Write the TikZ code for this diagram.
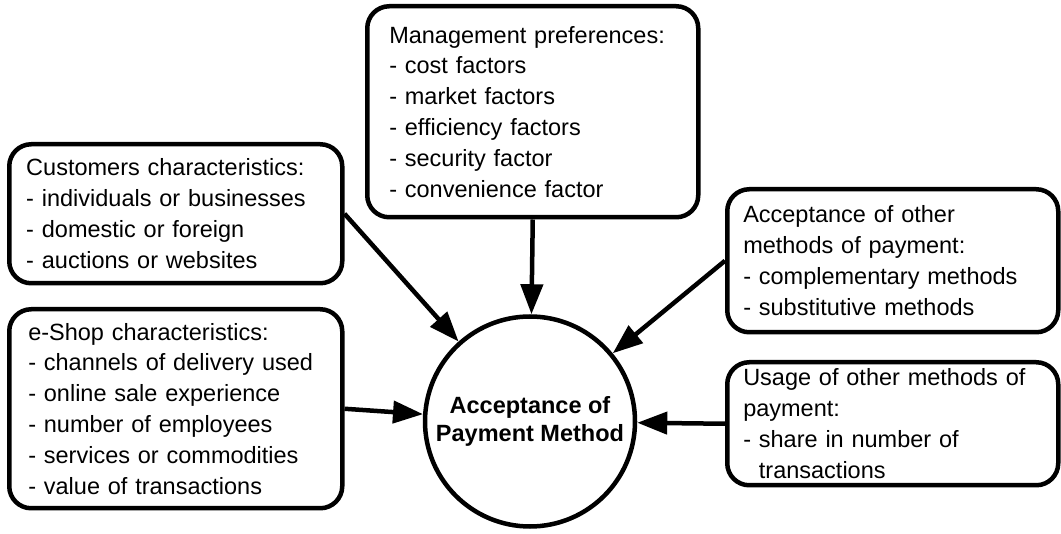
\documentclass[tikz,border=0pt]{standalone}
\usepackage{fontspec}
\setmainfont{Liberation Sans}
\usetikzlibrary{arrows.meta}
\begin{document}
\begin{tikzpicture}[x=1pt,y=-1pt,
  infobox/.style={draw, line width=4.5pt, rounded corners=22pt, fill=white,
    anchor=north west, align=left, inner ysep=0pt,
    font=\fontsize{23.5}{30.8}\selectfont},
  hub/.style={draw, circle, line width=4.5pt, fill=white, minimum size=210pt,
    align=center, inner sep=0pt, font=\fontsize{23.5}{28.5}\selectfont\bfseries},
  link/.style={line width=4.5pt, -{Triangle[length=30pt,width=22pt]}}]
\useasboundingbox (0,0) rectangle (1061,534);

% central concept
\node[hub] (acc) at (530,421.5) {Acceptance~of\\Payment~Method};

% surrounding factor groups
\node[infobox, minimum width=333pt, minimum height=139pt,
      text width=299pt, inner xsep=17pt] (cust) at (7,142)
  {Customers~characteristics:\\
   -~individuals~or~businesses\\
   -~domestic~or~foreign\\
   -~auctions~or~websites};

\node[infobox, minimum width=331pt, minimum height=211pt,
      text width=287pt, inner xsep=22pt] (mgmt) at (365,4)
  {Management~preferences:\\
   -~cost~factors\\
   -~market~factors\\
   -~efficiency~factors\\
   -~security~factor\\
   -~convenience~factor};

\node[infobox, minimum width=331pt, minimum height=143pt,
      text width=299pt, inner xsep=16pt] (other) at (725,187)
  {Acceptance~of~other\\
   methods~of~payment:\\
   -~complementary~methods\\
   -~substitutive~methods};

\node[infobox, minimum width=333pt, minimum height=199pt,
      text width=295pt, inner xsep=19pt] (shop) at (7,307)
  {e-Shop~characteristics:\\
   -~channels~of~delivery~used\\
   -~online~sale~experience\\
   -~number~of~employees\\
   -~services~or~commodities\\
   -~value~of~transactions};

\node[infobox, minimum width=331pt, minimum height=123pt,
      text width=299pt, inner xsep=16pt] (usage) at (725,360)
  {Usage~of~other~methods~of\\
   payment:\\
   -~share~in~number~of\\
   \hphantom{-~}transactions};

% influences on acceptance
\draw[link] (cust.east) -- (acc);
\draw[link] (mgmt.south) -- (acc);
\draw[link] (other.west) -- (acc);
\draw[link] (shop.east) -- (acc);
\draw[link] (usage.west) -- (acc);
\end{tikzpicture}
\end{document}
